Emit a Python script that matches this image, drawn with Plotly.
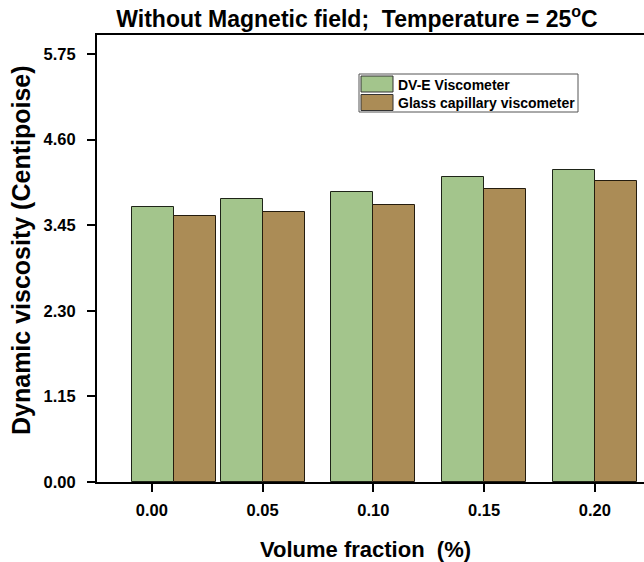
import plotly.graph_objects as go

# Volume fraction of each sample group (first sample sits at 0.01)
volume_fraction = [0.01, 0.05, 0.10, 0.15, 0.20]
dve_viscometer = [3.70, 3.80, 3.90, 4.10, 4.19]
glass_capillary = [3.57, 3.63, 3.72, 3.94, 4.05]

x_ticks = [0.00, 0.05, 0.10, 0.15, 0.20]
x_tick_labels = ["0.00", "0.05", "0.10", "0.15", "0.20"]
y_ticks = [0.00, 1.15, 2.30, 3.45, 4.60, 5.75]
y_tick_labels = ["0.00", "1.15", "2.30", "3.45", "4.60", "5.75"]

series_names = ["DV-E Viscometer", "Glass capillary viscometer"]
GREEN = "#a3c58c"
BROWN = "#ab8c56"
FONT = "Liberation Sans, Arial, sans-serif"

W, H = 644, 562
ML, MR, MT, MB = 97, 0, 35, 80
BAR_W = 0.019

fig = go.Figure()
fig.add_trace(go.Bar(
    x=volume_fraction, y=dve_viscometer, name=series_names[0],
    width=BAR_W, offset=-BAR_W,
    marker=dict(color=GREEN, line=dict(color="#1e2418", width=1)),
    showlegend=False,
))
fig.add_trace(go.Bar(
    x=volume_fraction, y=glass_capillary, name=series_names[1],
    width=BAR_W, offset=0,
    marker=dict(color=BROWN, line=dict(color="#241c0e", width=1)),
    showlegend=False,
))

# Pixel -> paper coordinate helpers for the legend box and titles
pw, ph = W - ML - MR, H - MT - MB


def px(x):
    return (x - ML) / pw


def py(y):
    return (H - MB - y) / ph


def bold(size):
    return dict(family=FONT, size=size, color="black", weight="bold")


shapes = [
    dict(type="rect", xref="paper", yref="paper",
         x0=px(359), x1=px(578), y0=py(112), y1=py(74),
         line=dict(color="#555555", width=1), fillcolor="white"),
]
annotations = []
for i, (name, col) in enumerate(zip(series_names, [GREEN, BROWN])):
    top = 76 + i * 18.5
    shapes.append(dict(type="rect", xref="paper", yref="paper",
                       x0=px(361), x1=px(393), y0=py(top + 16), y1=py(top),
                       line=dict(color="#333333", width=1), fillcolor=col))
    annotations.append(dict(xref="paper", yref="paper", x=px(396), y=py(top + 8.5),
                            text=name, showarrow=False, xanchor="left", yanchor="middle",
                            font=bold(14)))

# Axis titles
annotations.append(dict(xref="paper", yref="paper", x=px(365), y=py(549),
                        text="Volume fraction  (%)", showarrow=False,
                        xanchor="center", yanchor="middle", font=bold(22)))
annotations.append(dict(xref="paper", yref="paper", x=px(21), y=py(250),
                        text="Dynamic viscosity (Centipoise)", showarrow=False,
                        textangle=-90, xanchor="center", yanchor="middle",
                        font=bold(25)))

fig.update_layout(
    width=W, height=H,
    margin=dict(l=ML, r=MR, t=MT, b=MB, pad=0),
    paper_bgcolor="white", plot_bgcolor="white",
    bargap=0, barmode="group",
    title=dict(text="Without Magnetic field;  Temperature = 25<sup>o</sup>C",
               xref="container", x=357 / W, xanchor="center",
               yref="container", y=1 - 19 / H, yanchor="middle",
               font=bold(23)),
    shapes=shapes, annotations=annotations,
    xaxis=dict(
        range=[-0.0248, 0.2222],
        tickvals=x_ticks, ticktext=x_tick_labels,
        ticks="outside", ticklen=8, tickwidth=2, tickcolor="black",
        showline=True, linecolor="black", linewidth=2, mirror=True,
        showgrid=False, zeroline=False,
        tickfont=bold(16.5),
        ticklabelstandoff=4,
    ),
    yaxis=dict(
        range=[0, 6.005],
        tickvals=y_ticks, ticktext=y_tick_labels,
        ticks="outside", ticklen=8, tickwidth=2, tickcolor="black",
        showline=True, linecolor="black", linewidth=2, mirror=False,
        showgrid=False, zeroline=False,
        tickfont=bold(16.5),
        ticklabelstandoff=8,
    ),
)

fig.write_html("out.html")
